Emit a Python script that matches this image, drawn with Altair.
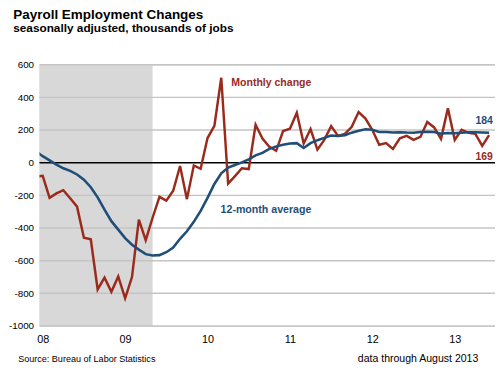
import json
import altair as alt
import pandas as pd

# ---------------- data ----------------
year_labels = ["08", "09", "10", "11", "12", "13"]
label_every = 12           # one year label every 12 months
first_index = -1           # first month in the arrays sits one month before the "08" label

monthly_change = [
    -85, -80, -215, -188, -168, -218, -269, -459, -469, -776, -704, -790,
    -696, -830, -700, -349, -474, -337, -209, -232, -172, -20, -223, -17,
    -37, 151, 225, 520, -128, -82, -34, -39, 232, 148, 98, 73,
    194, 208, 306, 118, 206, 80, 140, 224, 164, 176, 220, 310,
    270, 200, 110, 120, 85, 150, 164, 140, 158, 249, 216, 146,
    333, 140, 202, 183, 177, 103, 169,
]
twelve_month_avg = [
    70, 40, 14, -12, -34, -50, -72, -104, -150, -212, -287, -358,
    -410, -462, -502, -532, -560, -568, -566, -548, -520, -466, -420, -362,
    -295, -215, -130, -65, -30, -14, 2, 20, 45, 60, 85, 100,
    110, 118, 120, 90, 120, 138, 152, 166, 164, 168, 184, 196,
    205, 202, 188, 188, 185, 187, 185, 184, 188, 190, 188, 178,
    182, 180, 184, 186, 186, 185, 184,
]
y_ticks = [-1000, -800, -600, -400, -200, 0, 200, 400, 600]
recession_months = [-3, 16]   # recession span, in the same month index

# ---------------- styling ----------------
RED = "#9a2a1c"
BLUE = "#1f4e79"
FONT = "Liberation Sans"
W, H = 463, 265.6
x_domain = [-0.47, 65.86]

n = len(monthly_change)
df = pd.DataFrame({
    "t": list(range(first_index, first_index + n)),
    "monthly": monthly_change,
    "avg": twelve_month_avg,
})

xs = alt.Scale(domain=x_domain, nice=False, zero=False)
ys = alt.Scale(domain=[y_ticks[0], y_ticks[-1]], nice=False)

label_array = json.dumps(year_labels).replace('"', "'")
x_axis = alt.Axis(
    values=[i * label_every for i in range(len(year_labels))],
    labelExpr=f"{label_array}[round(datum.value / {label_every})]",
    domain=False, ticks=False, grid=False, title=None,
    labelFontSize=11, labelPadding=8, labelColor="black", labelFont=FONT,
)
y_axis = alt.Axis(
    values=y_ticks, labelExpr="datum.value + ''",
    domain=False, ticks=False, grid=False, title=None,
    labelFontSize=10, labelPadding=6, labelColor="black", labelFont=FONT,
)

def X(field):
    return alt.X(field, scale=xs, axis=x_axis, title=None)

def Y(field):
    return alt.Y(field, scale=ys, axis=y_axis, title=None)

rec_df = pd.DataFrame({"x0": [recession_months[0]], "x1": [recession_months[1]],
                       "y0": [y_ticks[0]], "y1": [y_ticks[-1]]})
shade = alt.Chart(rec_df).mark_rect(color="#d8d8d8", clip=True).encode(
    x=X("x0:Q"), x2="x1:Q", y=Y("y0:Q"), y2="y1:Q",
)

grid_df = pd.DataFrame({"y": [v for v in y_ticks if v != 0]})
grid = alt.Chart(grid_df).mark_rule(color="#c4c4c4", strokeWidth=1.5).encode(y=Y("y:Q"))
zero = alt.Chart(pd.DataFrame({"y": [0]})).mark_rule(color="black", strokeWidth=1.5).encode(y=Y("y:Q"))

red_line = alt.Chart(df).mark_line(color=RED, strokeWidth=2.5, clip=True).encode(
    x=X("t:Q"), y=Y("monthly:Q"),
)
blue_line = alt.Chart(df).mark_line(color=BLUE, strokeWidth=2.6, clip=True).encode(
    x=X("t:Q"), y=Y("avg:Q"),
)

def label(text, t, v, color, **kw):
    return alt.Chart(pd.DataFrame({"t": [t], "v": [v], "s": [text]})).mark_text(
        color=color, font=FONT, fontWeight="bold", **kw
    ).encode(x=X("t:Q"), y=Y("v:Q"), text="s:N")

last_t = first_index + n - 1
lab_monthly = label("Monthly change", 27.46, 471, RED, fontSize=10.7, align="left", baseline="alphabetic")
lab_avg = label("12-month average", 25.9, -311, BLUE, fontSize=10.8, align="left", baseline="alphabetic")
lab_last_avg = label(str(twelve_month_avg[-1]), last_t, twelve_month_avg[-1], BLUE,
                     fontSize=10.6, align="center", baseline="alphabetic", dx=-5, dy=-9)
lab_last_mon = label(str(monthly_change[-1]), last_t, monthly_change[-1], RED,
                     fontSize=10.6, align="center", baseline="alphabetic", dx=-5, dy=25)

foot_df = pd.DataFrame({"s": ["Source: Bureau of Labor Statistics"]})
foot_left = alt.Chart(foot_df).mark_text(
    font=FONT, fontSize=9.2, align="left", baseline="alphabetic", color="black"
).encode(x=alt.value(-21.7), y=alt.value(H + 36.2), text="s:N")
foot_df2 = pd.DataFrame({"s": ["data through August 2013"]})
foot_right = alt.Chart(foot_df2).mark_text(
    font=FONT, fontSize=10.7, align="right", baseline="alphabetic", color="black"
).encode(x=alt.value(446), y=alt.value(H + 36.2), text="s:N")

chart = alt.layer(
    shade, grid, zero, red_line, blue_line,
    lab_monthly, lab_avg, lab_last_avg, lab_last_mon, foot_left, foot_right,
).properties(
    width=W, height=H,
    title=alt.TitleParams(
        text="Payroll Employment Changes",
        subtitle="seasonally adjusted, thousands of jobs",
        anchor="start", frame="group", dx=-26.7, offset=26.5,
        font=FONT, subtitleFont=FONT,
        fontSize=13.7, subtitleFontSize=12,
        fontWeight="bold", subtitleFontWeight="bold",
        color="black", subtitleColor="black", subtitlePadding=1.6,
    ),
    autosize=alt.AutoSizeParams(type="none"),
    padding={"left": 32, "top": 54.7, "right": 0, "bottom": 38.7},
).configure_view(stroke=None).configure(font=FONT)

chart.save("out.html", embed_options={"renderer": "svg", "actions": False})
